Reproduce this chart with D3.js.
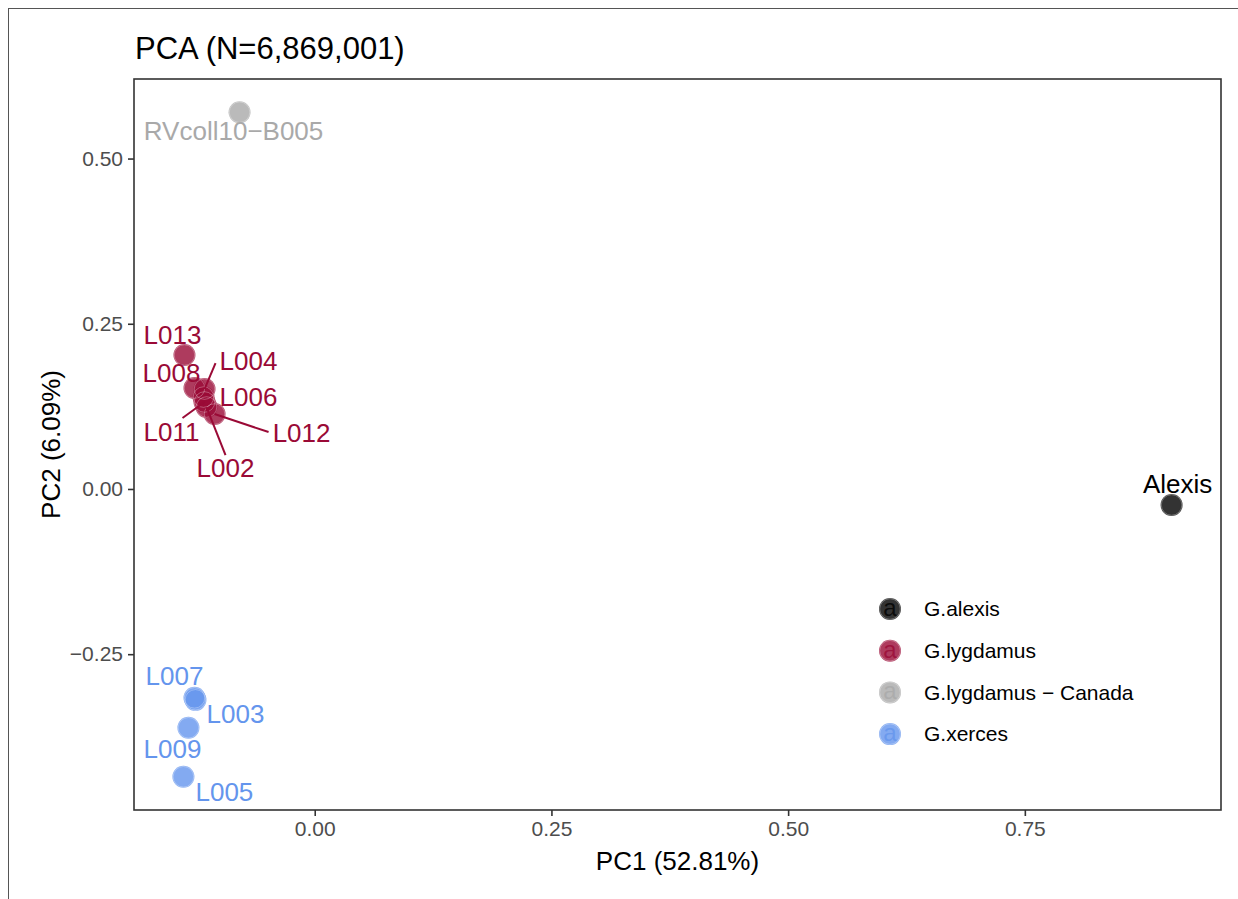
<!DOCTYPE html>
<html>
<head>
<meta charset="utf-8">
<script src="https://cdn.jsdelivr.net/npm/d3@7"></script>
<style>
  body { margin: 0; background: #ffffff; }
  text { font-family: "Liberation Sans", Arial, Helvetica, sans-serif; }
</style>
</head>
<body>
<svg id="chart" width="1238" height="899"></svg>
<script>
// PCA scores per sample
const sampleIds = ["Alexis", "RVcoll10−B005", "L002", "L004", "L006", "L008", "L011", "L012", "L013", "L003", "L005", "L007", "L009"];
const sampleGroups = ["G.alexis", "G.lygdamus − Canada", "G.lygdamus", "G.lygdamus", "G.lygdamus", "G.lygdamus", "G.lygdamus", "G.lygdamus", "G.lygdamus", "G.xerces", "G.xerces", "G.xerces", "G.xerces"];
const pc1 = [0.905, -0.0794, -0.1143, -0.1164, -0.1175, -0.1270, -0.1164, -0.1058, -0.1376, -0.1260, -0.1387, -0.1270, -0.1334];
const pc2 = [-0.0242, 0.5701, 0.1240, 0.1512, 0.1391, 0.1527, 0.1316, 0.1134, 0.2027, -0.3191, -0.4355, -0.3160, -0.3614];

const groupNames = ["G.alexis", "G.lygdamus", "G.lygdamus − Canada", "G.xerces"];
const groupColors = ["#000000", "#9A0A36", "#A9A9A9", "#6495ED"];

const xTicks = [0, 0.25, 0.5, 0.75];
const yTicks = [-0.25, 0, 0.25, 0.5];

const titleText = "PCA (N=6,869,001)";
const xTitle = "PC1 (52.81%)";
const yTitle = "PC2 (6.09%)";

// repelled label placement (pixel offsets from the point: text centre/baseline, segment end)
const labelLayout = {
  "Alexis":        { dx: 6,   dy: -12 },
  "RVcoll10−B005": { dx: -6,  dy: 28 },
  "L013":          { dx: -12, dy: -11 },
  "L008":          { dx: -23, dy: -6 },
  "L004":          { dx: 44,  dy: -19, sx: 11,  sy: -26 },
  "L006":          { dx: 45,  dy: 9 },
  "L011":          { dx: -33, dy: 39,  sx: -22, sy: 16 },
  "L012":          { dx: 87,  dy: 28,  sx: 54,  sy: 18 },
  "L002":          { dx: 19,  dy: 70,  sx: 19,  sy: 48 },
  "L007":          { dx: -20, dy: -13 },
  "L003":          { dx: 40,  dy: 23 },
  "L009":          { dx: -16, dy: 30 },
  "L005":          { dx: 41,  dy: 24 }
};

const svg = d3.select("#chart");
const W = 1238, H = 899;
const panel = { left: 134, right: 1221, top: 79, bottom: 810 };

// outer frame
svg.append("rect").attr("x", 8.5).attr("y", 8.5).attr("width", W + 10).attr("height", H + 10)
  .attr("fill", "#ffffff").attr("stroke", "#555555").attr("stroke-width", 1);

const data = sampleIds.map((id, i) => ({ id, group: sampleGroups[i], x: pc1[i], y: pc2[i] }));

// ggplot-style 5% expansion of the data range
function expand(ext) { const r = ext[1] - ext[0]; return [ext[0] - 0.05 * r, ext[1] + 0.05 * r]; }
const x = d3.scaleLinear().domain(expand(d3.extent(pc1))).range([panel.left, panel.right]);
const y = d3.scaleLinear().domain(expand(d3.extent(pc2))).range([panel.bottom, panel.top]);
const color = d3.scaleOrdinal().domain(groupNames).range(groupColors);

const fmt = v => d3.format(".2f")(v).replace("-", "−");

// axes
const xAxis = svg.append("g").attr("transform", `translate(0,${panel.bottom})`)
  .call(d3.axisBottom(x).tickValues(xTicks).tickFormat(fmt).tickSizeOuter(0).tickSize(6).tickPadding(5));
const yAxis = svg.append("g").attr("transform", `translate(${panel.left},0)`)
  .call(d3.axisLeft(y).tickValues(yTicks).tickFormat(fmt).tickSizeOuter(0).tickSize(6).tickPadding(5));
[xAxis, yAxis].forEach(g => {
  g.select(".domain").remove();
  g.selectAll(".tick line").attr("stroke", "#333333").attr("stroke-width", 1.6);
  g.selectAll(".tick text").attr("fill", "#4d4d4d").style("font-size", "21px")
    .style("font-family", "'Liberation Sans', Arial, sans-serif");
});

// panel border
svg.append("rect").attr("x", panel.left).attr("y", panel.top)
  .attr("width", panel.right - panel.left).attr("height", panel.bottom - panel.top)
  .attr("fill", "none").attr("stroke", "#333333").attr("stroke-width", 1.6);

// points
const pts = svg.append("g");
pts.selectAll("circle.pt").data(data).join("circle")
  .attr("class", "pt")
  .attr("cx", d => x(d.x)).attr("cy", d => y(d.y)).attr("r", 11)
  .attr("fill", d => color(d.group)).attr("fill-opacity", 0.8);
pts.selectAll("circle.rim").data(data).join("circle")
  .attr("class", "rim")
  .attr("cx", d => x(d.x)).attr("cy", d => y(d.y)).attr("r", 10.3)
  .attr("fill", "none").attr("stroke", "#ffffff").attr("stroke-opacity", 0.3).attr("stroke-width", 1);

// label segments
const lbl = svg.append("g");
lbl.selectAll("line").data(data.filter(d => labelLayout[d.id].sx !== undefined)).join("line")
  .attr("x1", d => x(d.x)).attr("y1", d => y(d.y))
  .attr("x2", d => x(d.x) + labelLayout[d.id].sx).attr("y2", d => y(d.y) + labelLayout[d.id].sy)
  .attr("stroke", d => color(d.group)).attr("stroke-width", 2);

// labels
lbl.selectAll("text").data(data).join("text")
  .attr("x", d => x(d.x) + labelLayout[d.id].dx)
  .attr("y", d => y(d.y) + labelLayout[d.id].dy)
  .attr("text-anchor", "middle")
  .attr("fill", d => color(d.group))
  .style("font-size", "26px")
  .text(d => d.id);

// titles
svg.append("text").attr("x", 135).attr("y", 59).style("font-size", "31px").attr("fill", "#000").text(titleText);
svg.append("text").attr("x", (panel.left + panel.right) / 2).attr("y", 870)
  .attr("text-anchor", "middle").style("font-size", "26px").attr("fill", "#000").text(xTitle);
svg.append("text").attr("transform", `translate(60,${(panel.top + panel.bottom) / 2}) rotate(-90)`)
  .attr("text-anchor", "middle").style("font-size", "26px").attr("fill", "#000").text(yTitle);

// legend
const legend = svg.append("g").attr("transform", "translate(890,609)");
const items = legend.selectAll("g").data(groupNames).join("g")
  .attr("transform", (d, i) => `translate(0,${i * 41.7})`);
items.append("circle").attr("r", 11).attr("fill", d => color(d)).attr("fill-opacity", 0.8);
items.append("circle").attr("r", 10.3).attr("fill", "none").attr("stroke", "#fff")
  .attr("stroke-opacity", 0.3).attr("stroke-width", 1);
items.append("text").attr("y", 7).attr("text-anchor", "middle").style("font-size", "24px")
  .attr("fill", d => color(d)).attr("fill-opacity", 0.8).text("a");
items.append("text").attr("x", 34).attr("y", 0).attr("dy", "0.35em")
  .style("font-size", "21px").attr("fill", "#000").text(d => d);
</script>
</body>
</html>
